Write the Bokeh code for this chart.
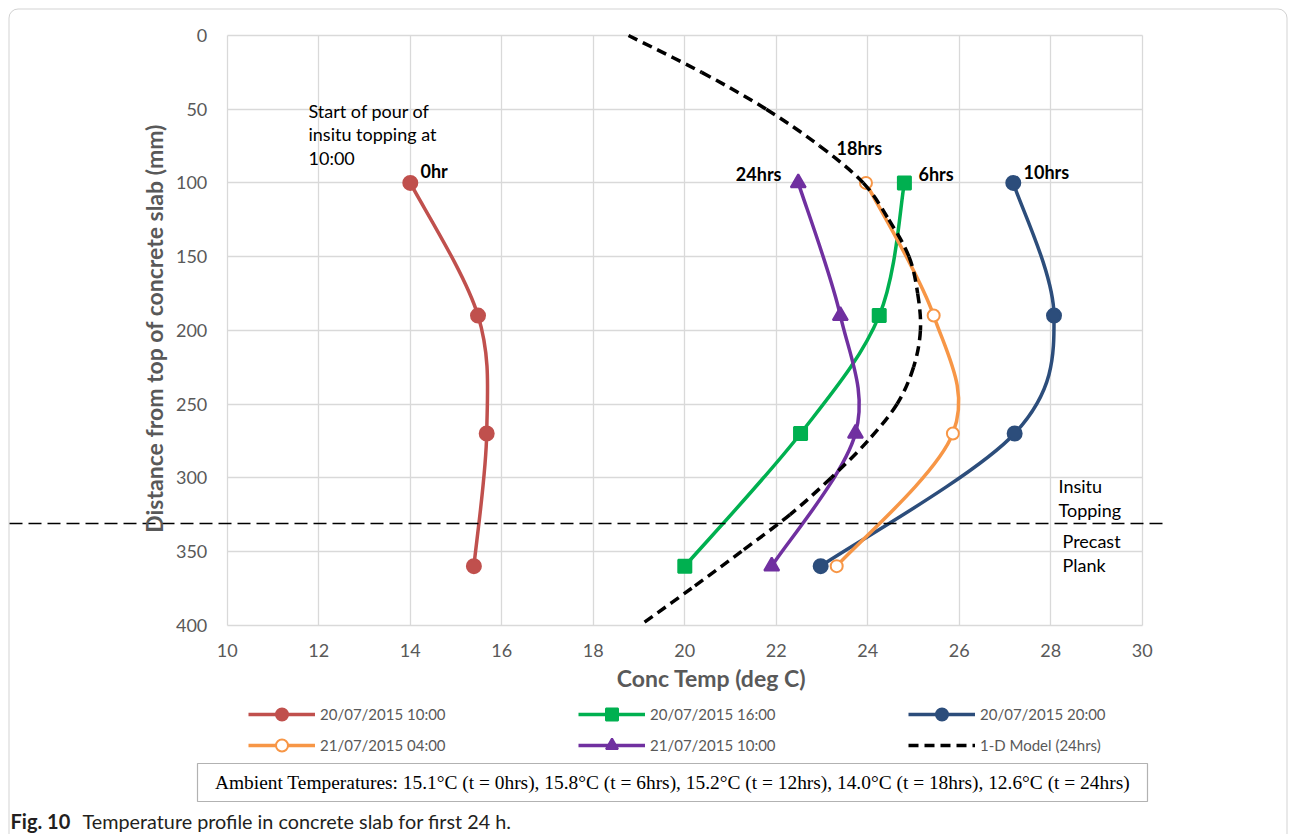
import math
from bokeh.plotting import figure
from bokeh.models import (Range1d, Label, Legend, LegendItem, BoxAnnotation,
                          Arrow, FixedTicker, ColumnDataSource)
from bokeh.embed import file_html
from bokeh.resources import INLINE

# ---------------- data ----------------
depths = [100, 190, 270, 360]
t_0hr = [14.0, 15.48, 15.67, 15.39]
t_6hr = [24.80, 24.25, 22.53, 20.0]
t_10hr = [27.18, 28.07, 27.21, 22.97]
t_18hr = [23.96, 25.44, 25.86, 23.32]
t_24hr = [22.48, 23.40, 23.73, 21.90]

model_depth = [0, 25, 50, 75, 100, 125, 150, 175, 200, 225, 250, 275, 300, 325, 350, 375, 400]
model_temp = [18.77, 20.37, 21.78, 22.95, 23.9, 24.46, 24.9, 25.09, 25.15, 25.0, 24.64,
              24.0, 23.2, 22.3, 21.24, 20.15, 19.03]

series_names = ["20/07/2015 10:00", "20/07/2015 16:00", "20/07/2015 20:00",
                "21/07/2015 04:00", "21/07/2015 10:00"]
model_name = "1-D Model (24hrs)"
hour_labels = ["0hr", "6hrs", "10hrs", "18hrs", "24hrs"]
x_ticks = [10, 12, 14, 16, 18, 20, 22, 24, 26, 28, 30]
y_ticks = [0, 50, 100, 150, 200, 250, 300, 350, 400]
interface_depth = 331
ambient_note = ("Ambient Temperatures: 15.1\u00b0C (t = 0hrs), 15.8\u00b0C (t = 6hrs), "
                "15.2\u00b0C (t = 12hrs), 14.0\u00b0C (t = 18hrs), 12.6\u00b0C (t = 24hrs)")

# ---------------- helpers ----------------
FONT = "Lato"
TXT = "#595959"
W, H = 1290, 834
# chart area in canvas pixels: x 10 -> 226.8, 30 -> 1141.8 ; y 0 -> 35, 400 -> 624.6
SX = (1141.8 - 226.8) / 20.0
SY = (624.6 - 35.0) / 400.0


def dx(px):
    return 10 + (px - 226.8) / SX


def dy(py):
    return (py - 35.0) / SY


def smooth_source(xs, ys):
    """Bezier control points (Catmull-Rom style, like Excel smoothed lines)."""
    n = len(xs)
    P = list(zip(xs, ys))
    d = dict(x0=[], y0=[], x1=[], y1=[], cx0=[], cy0=[], cx1=[], cy1=[])
    for i in range(n - 1):
        p0 = P[i - 1] if i > 0 else P[i]
        p1 = P[i]
        p2 = P[i + 1]
        p3 = P[i + 2] if i + 2 < n else P[i + 1]
        d["x0"].append(p1[0]); d["y0"].append(p1[1])
        d["x1"].append(p2[0]); d["y1"].append(p2[1])
        d["cx0"].append(p1[0] + (p2[0] - p0[0]) / 6)
        d["cy0"].append(p1[1] + (p2[1] - p0[1]) / 6)
        d["cx1"].append(p2[0] - (p3[0] - p1[0]) / 6)
        d["cy1"].append(p2[1] - (p3[1] - p1[1]) / 6)
    return ColumnDataSource(d)


p = figure(width=W, height=H, title=None,
           x_range=Range1d(dx(0), dx(W)), y_range=Range1d(dy(H), dy(0)),
           output_backend="svg", toolbar_location=None, min_border=0)
p.outline_line_color = None
p.background_fill_color = "white"
p.border_fill_color = "white"

# axes placed at the chart-area edges
p.xaxis.fixed_location = 400
p.yaxis.fixed_location = 10
p.xaxis.bounds = (10, 30)
p.yaxis.bounds = (0, 400)
p.xaxis.ticker = FixedTicker(ticks=x_ticks)
p.yaxis.ticker = FixedTicker(ticks=y_ticks)
for ax in (p.xaxis[0], p.yaxis[0]):
    ax.axis_line_color = None
    ax.major_tick_line_color = None
    ax.minor_tick_line_color = None
    ax.major_tick_out = 0
    ax.major_tick_in = 0
    ax.major_label_text_font = FONT
    ax.major_label_text_font_size = "18px"
    ax.major_label_text_color = TXT
p.xaxis.major_label_standoff = 19
p.yaxis.major_label_standoff = 20

p.xgrid.ticker = FixedTicker(ticks=x_ticks)
p.ygrid.ticker = FixedTicker(ticks=y_ticks)
p.xgrid.bounds = (10, 30)
p.xgrid.cross_bounds = (0, 400)
p.ygrid.bounds = (0, 400)
p.ygrid.cross_bounds = (10, 30)
p.grid.grid_line_color = "#D9D9D9"
p.grid.grid_line_width = 1.3

# ---------------- series ----------------
styles = [
    dict(color="#C0504D", marker="circle", size=14, fill="#C0504D"),
    dict(color="#00B050", marker="square", size=13, fill="#00B050"),
    dict(color="#2C4D7B", marker="circle", size=14, fill="#2C4D7B"),
    dict(color="#F79646", marker="circle", size=12, fill="white"),
    dict(color="#7030A0", marker="triangle", size=15, fill="#7030A0"),
]
series = [t_0hr, t_6hr, t_10hr, t_18hr, t_24hr]

items = []
for name, temps, st in zip(series_names, series, styles):
    src = smooth_source(temps, depths)
    br = p.bezier(x0="x0", y0="y0", x1="x1", y1="y1", cx0="cx0", cy0="cy0",
                  cx1="cx1", cy1="cy1", source=src, line_color=st["color"], line_width=3.5)
    sr = p.scatter(temps, depths, marker=st["marker"], size=st["size"],
                   fill_color=st["fill"], line_color=st["color"], line_width=2)
    items.append(LegendItem(label=name, renderers=[br, sr]))

msrc = smooth_source(model_temp, model_depth)
mr = p.bezier(x0="x0", y0="y0", x1="x1", y1="y1", cx0="cx0", cy0="cy0",
              cx1="cx1", cy1="cy1", source=msrc, line_color="black", line_width=3.5,
              line_dash="10 6")
items.append(LegendItem(label=model_name, renderers=[mr]))

legend = Legend(items=items, location=(248, H - 760), orientation="horizontal", ncols=3,
                border_line_color=None, background_fill_alpha=0, padding=0, margin=0,
                spacing=1, glyph_width=67, glyph_height=30, label_height=30,
                label_width=257, label_standoff=5, label_text_font=FONT,
                label_text_font_size="15px", label_text_color=TXT)
p.add_layout(legend, "center")

# interface divider line
p.add_layout(Arrow(end=None, x_start=dx(9), y_start=interface_depth,
                   x_end=dx(1162), y_end=interface_depth,
                   line_color="black", line_width=1.5, line_dash="13 6"))

# ---------------- text annotations ----------------
def add_label(x, y, text, size="18px", bold=False, color="black", font=FONT,
              align="left", baseline="middle", angle=0.0):
    p.add_layout(Label(x=x, y=y, text=text, text_font=font, text_font_size=size,
                       text_font_style="bold" if bold else "normal", text_color=color,
                       text_align=align, text_baseline=baseline, angle=angle))

hour_pos = [(dx(420), dy(170), "left"), (dx(918), dy(173), "left"),
            (dx(1023), dy(171), "left"), (dx(836), dy(147), "left"),
            (dx(781), dy(173), "right")]
for txt, (x, y, al) in zip(hour_labels, hour_pos):
    add_label(x, y, txt, bold=True, align=al)

add_label(dx(308), dy(110), "Start of pour of")
add_label(dx(308), dy(133.5), "insitu topping at")
add_label(dx(308), dy(157), "10:00")
add_label(dx(1058), dy(485), "Insitu")
add_label(dx(1058), dy(509), "Topping")
add_label(dx(1062), dy(540), "Precast")
add_label(dx(1062), dy(564), "Plank")

# axis titles
add_label(dx(711), dy(677), "Conc Temp (deg C)", size="23px", bold=True, color=TXT,
          align="center")
add_label(dx(153), dy(328), "Distance from top of concrete slab (mm)", size="23px",
          bold=True, color=TXT, align="center", angle=math.pi / 2)

# ambient note box
p.add_layout(BoxAnnotation(left=dx(197), right=dx(1147), top=dy(763), bottom=dy(801),
                           fill_alpha=0, line_color="black", line_width=1.2))
add_label(dx(672), dy(782), ambient_note, size="19.4px", font="Liberation Serif",
          align="center")

# outer frame
p.add_layout(BoxAnnotation(left=dx(8.5), right=dx(1286.5), top=dy(8.5), bottom=dy(H + 40),
                           fill_alpha=0, line_color="#6b6b6b", line_width=1,
                           border_radius=9))

# caption
add_label(dx(10), dy(820), "Fig. 10", size="20px", bold=True, color="#231F20")
add_label(dx(82), dy(820), "Temperature profile in concrete slab for first 24 h.",
          size="19.8px", color="#231F20")

open("out.html", "w").write(file_html(p, INLINE))
